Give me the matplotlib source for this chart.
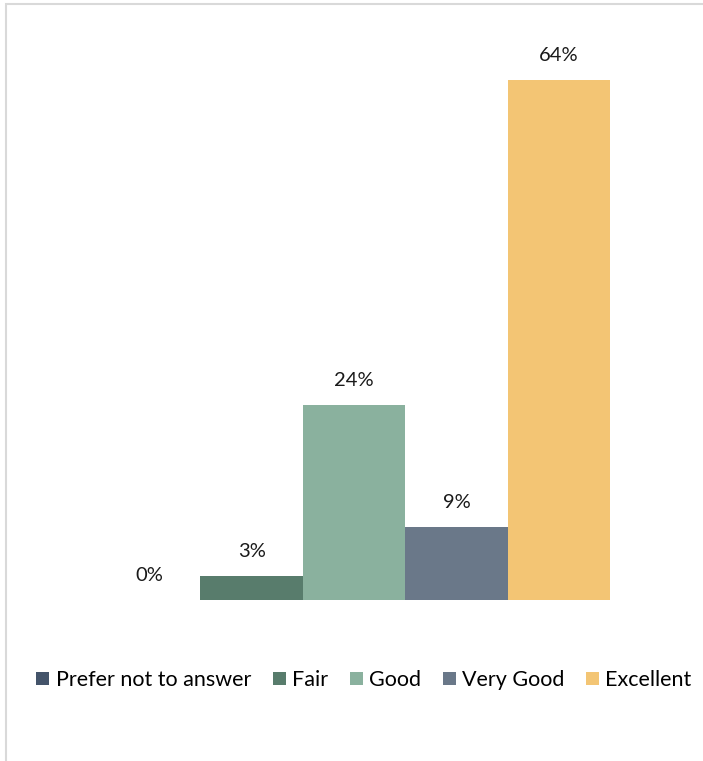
import matplotlib
matplotlib.use("Agg")
import matplotlib.pyplot as plt
from matplotlib.patches import Rectangle, Patch

categories = ["Prefer not to answer", "Fair", "Good", "Very Good", "Excellent"]
values = [0, 3, 24, 9, 64]
labels = ["0%", "3%", "24%", "9%", "64%"]
colors = ["#44546A", "#587C6C", "#8AB19E", "#6A7889", "#F3C574"]

W, H = 703, 761
fig = plt.figure(figsize=(W / 100, H / 100), dpi=100)
plt.rcParams['font.family'] = ['Lato', 'DejaVu Sans']

# chart area border
fig.patches.append(Rectangle((6 / W, -0.05), 1.1, (H - 4) / H + 0.05,
                             transform=fig.transFigure, fill=False,
                             edgecolor="#D9D9D9", linewidth=1.5, zorder=0))

ymax = 70
px_per = (600 - 80) / 64
ax_h = ymax * px_per
ax = fig.add_axes([98 / W, (H - 600) / H, (610 - 98) / W, ax_h / H])
ax.patch.set_alpha(0)
x = list(range(len(categories)))
ax.bar(x, values, width=1.0, color=colors)
for xi, v, lab in zip(x, values, labels):
    ax.annotate(lab, (xi, v), xytext=(0, 11.5), textcoords="offset points",
                ha="center", va="bottom", fontsize=14.5, color="#1a1a1a")
ax.set_xlim(-0.5, 4.5)
ax.set_ylim(0, ymax)
ax.axis("off")

handles = [Patch(facecolor=c, edgecolor="none") for c in colors]
fig.legend(handles, categories, loc="center", bbox_to_anchor=(364 / W, (H - 680) / H),
           ncol=5, frameon=False, fontsize=15.5, handlelength=0.6, handleheight=0.6,
           handletextpad=0.3, columnspacing=1.0, borderaxespad=0)

fig.savefig("out.png", dpi=100)
